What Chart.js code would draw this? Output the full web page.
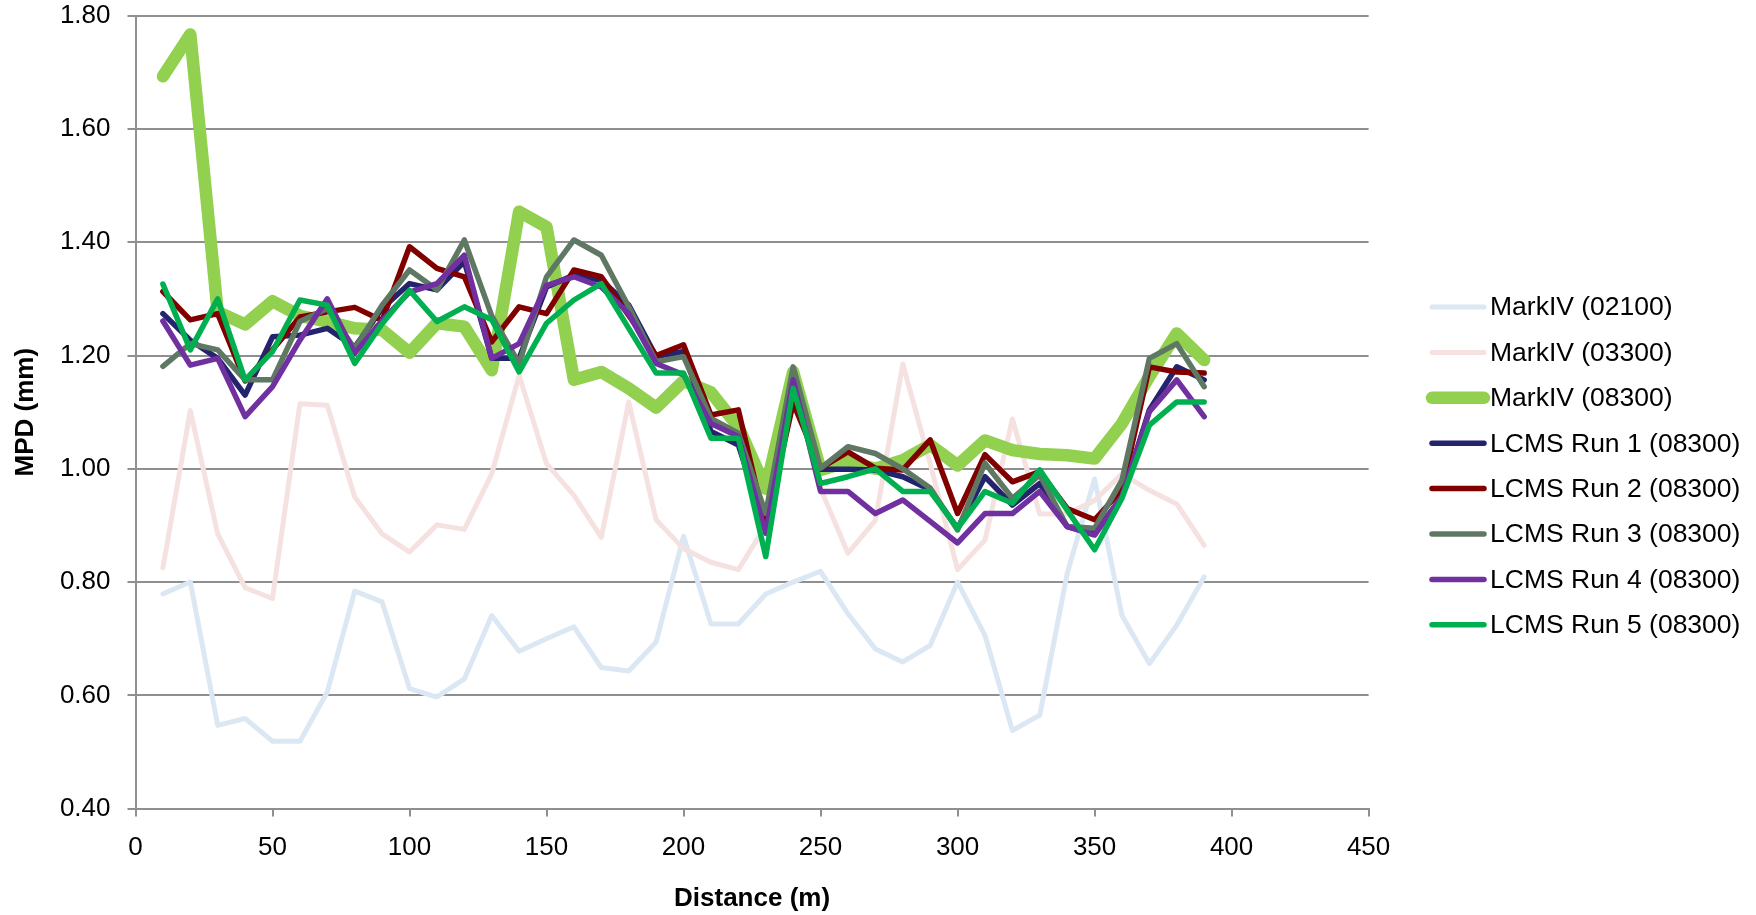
<!DOCTYPE html>
<html>
<head>
<meta charset="utf-8">
<title>MPD vs Distance</title>
<script src="https://cdn.jsdelivr.net/npm/chart.js@4/dist/chart.umd.min.js"></script>
<style>
  html, body { margin: 0; padding: 0; background: #fff; }
  canvas { display: block; }
</style>
</head>
<body>
<canvas id="mpdChart" width="1756" height="915"></canvas>
<script>
// distance along the section (m)
const distances = [10, 20, 30, 40, 50, 60, 70, 80, 90, 100, 110, 120, 130, 140, 150, 160, 170, 180, 190, 200,
                   210, 220, 230, 240, 250, 260, 270, 280, 290, 300, 310, 320, 330, 340, 350, 360, 370, 380, 390];

// MPD (mm) per survey
const markIV02100 = [0.779, 0.800, 0.547, 0.559, 0.519, 0.519, 0.606, 0.784, 0.765, 0.612, 0.597, 0.629, 0.741, 0.678, 0.700, 0.721, 0.649, 0.643, 0.694, 0.881,
                     0.726, 0.726, 0.779, 0.800, 0.819, 0.744, 0.682, 0.659, 0.688, 0.800, 0.706, 0.538, 0.565, 0.815, 0.982, 0.741, 0.656, 0.724, 0.809];
const markIV03300 = [0.825, 1.103, 0.885, 0.790, 0.771, 1.115, 1.112, 0.950, 0.885, 0.853, 0.901, 0.893, 0.991, 1.165, 1.009, 0.953, 0.879, 1.118, 0.910, 0.859,
                     0.835, 0.822, 0.900, 1.150, 0.965, 0.851, 0.909, 1.185, 1.009, 0.822, 0.874, 1.088, 0.920, 0.920, 0.944, 0.991, 0.962, 0.938, 0.865];
const markIV08300 = [1.693, 1.767, 1.277, 1.255, 1.296, 1.270, 1.260, 1.248, 1.245, 1.205, 1.257, 1.251, 1.174, 1.454, 1.427, 1.157, 1.171, 1.142, 1.108, 1.155,
                     1.135, 1.074, 0.965, 1.171, 0.998, 1.013, 1.000, 1.015, 1.042, 1.006, 1.050, 1.033, 1.026, 1.024, 1.018, 1.080, 1.163, 1.239, 1.192];
const lcmsRun1 = [1.274, 1.227, 1.195, 1.130, 1.233, 1.236, 1.248, 1.215, 1.283, 1.327, 1.316, 1.366, 1.195, 1.195, 1.321, 1.342, 1.333, 1.289, 1.198, 1.207,
                  1.066, 1.042, 0.892, 1.157, 0.999, 0.999, 0.998, 0.986, 0.963, 0.895, 0.986, 0.936, 0.974, 0.898, 0.886, 0.951, 1.104, 1.180, 1.157];
const lcmsRun2 = [1.313, 1.263, 1.274, 1.155, 1.210, 1.268, 1.277, 1.285, 1.262, 1.392, 1.354, 1.339, 1.224, 1.286, 1.274, 1.351, 1.339, 1.271, 1.200, 1.219,
                  1.095, 1.104, 0.898, 1.116, 1.001, 1.030, 1.001, 0.998, 1.051, 0.921, 1.025, 0.977, 0.995, 0.930, 0.910, 0.963, 1.180, 1.171, 1.169];
const lcmsRun3 = [1.181, 1.221, 1.210, 1.157, 1.157, 1.260, 1.283, 1.212, 1.289, 1.351, 1.316, 1.404, 1.270, 1.186, 1.339, 1.404, 1.377, 1.286, 1.189, 1.198,
                  1.089, 1.063, 0.921, 1.180, 1.001, 1.039, 1.027, 1.000, 0.966, 0.892, 1.010, 0.948, 0.989, 0.898, 0.895, 0.980, 1.195, 1.221, 1.145];
const lcmsRun4 = [1.261, 1.183, 1.195, 1.092, 1.145, 1.227, 1.300, 1.204, 1.262, 1.312, 1.327, 1.377, 1.195, 1.221, 1.324, 1.339, 1.321, 1.274, 1.186, 1.166,
                  1.080, 1.057, 0.886, 1.157, 0.960, 0.960, 0.921, 0.945, 0.907, 0.869, 0.921, 0.921, 0.960, 0.898, 0.883, 0.951, 1.101, 1.157, 1.092];
const lcmsRun5 = [1.326, 1.210, 1.300, 1.157, 1.207, 1.298, 1.289, 1.186, 1.256, 1.315, 1.260, 1.286, 1.263, 1.171, 1.257, 1.298, 1.327, 1.248, 1.169, 1.169,
                  1.054, 1.054, 0.845, 1.142, 0.974, 0.986, 1.000, 0.960, 0.960, 0.895, 0.960, 0.939, 0.998, 0.927, 0.857, 0.948, 1.077, 1.118, 1.118];

const seriesLabels = ['MarkIV (02100)', 'MarkIV (03300)', 'MarkIV (08300)', 'LCMS Run 1 (08300)',
                      'LCMS Run 2 (08300)', 'LCMS Run 3 (08300)', 'LCMS Run 4 (08300)', 'LCMS Run 5 (08300)'];
const seriesValues = [markIV02100, markIV03300, markIV08300, lcmsRun1, lcmsRun2, lcmsRun3, lcmsRun4, lcmsRun5];
const seriesColors = ['#dbe8f4', '#f6e1e1', '#92d050', '#24246e', '#800000', '#5f7864', '#7030a0', '#00b050'];
const seriesWidths = [5, 5, 12.5, 5.5, 5.5, 5.5, 5.5, 5.5];

const xTicks = { min: 0, max: 450, step: 50 };
const yTicks = { min: 0.4, max: 1.8, step: 0.2 };

const FONT = "'Liberation Sans', Arial, sans-serif";
const GRID = '#8f8f8f';

const datasets = seriesLabels.map((label, i) => ({
  label: label,
  data: distances.map((d, j) => ({ x: d, y: seriesValues[i][j] })),
  borderColor: seriesColors[i],
  backgroundColor: seriesColors[i],
  borderWidth: seriesWidths[i],
  borderCapStyle: 'round',
  borderJoinStyle: 'round',
  pointRadius: 0,
  pointHoverRadius: 0,
  tension: 0,
  fill: false,
  order: seriesLabels.length - 1 - i   // later series sit on top
}));

// legend drawn to the right of the plot, one line sample per series
const sideLegend = {
  id: 'sideLegend',
  afterDraw(chart) {
    const ctx = chart.ctx;
    const x0 = 1432, x1 = 1484, textX = 1490;
    const top = 307, gap = 45.4;
    ctx.save();
    ctx.font = '26.5px ' + FONT;
    ctx.textBaseline = 'middle';
    ctx.textAlign = 'left';
    chart.data.datasets.forEach((ds, i) => {
      const y = top + i * gap;
      ctx.beginPath();
      ctx.lineCap = 'round';
      ctx.strokeStyle = ds.borderColor;
      ctx.lineWidth = ds.borderWidth;
      ctx.moveTo(x0, y);
      ctx.lineTo(x1, y);
      ctx.stroke();
      ctx.fillStyle = '#000';
      ctx.fillText(ds.label, textX, y + 1);
    });
    ctx.restore();
  }
};

Chart.defaults.font.family = FONT;
Chart.defaults.font.size = 26;
Chart.defaults.color = '#000';

new Chart(document.getElementById('mpdChart').getContext('2d'), {
  type: 'line',
  data: { datasets: datasets },
  options: {
    responsive: false,
    devicePixelRatio: 1,
    animation: false,
    layout: { padding: { left: 0, top: 0, right: 387.4, bottom: 0 } },
    plugins: {
      legend: { display: false },
      tooltip: { enabled: false }
    },
    scales: {
      x: {
        type: 'linear',
        min: xTicks.min,
        max: xTicks.max,
        afterFit: (scale) => { scale.height = 106.4; },
        ticks: { stepSize: xTicks.step, padding: 16, font: { size: 26 } },
        grid: { drawOnChartArea: false, drawTicks: true, tickLength: 8, color: GRID, lineWidth: 2 },
        border: { color: GRID, width: 2 },
        title: { display: true, text: 'Distance (m)', font: { size: 26, weight: 'bold' }, padding: { top: 0, bottom: 1 } }
      },
      y: {
        min: yTicks.min,
        max: yTicks.max,
        afterFit: (scale) => { scale.width = 135.5; scale.paddingTop = 15.7; },
        ticks: {
          stepSize: yTicks.step,
          padding: 17,
          font: { size: 26 },
          callback: (v) => v.toFixed(2)
        },
        grid: { color: GRID, lineWidth: 2, tickLength: 8 },
        border: { color: GRID, width: 2 },
        title: { display: true, text: 'MPD (mm)', font: { size: 26, weight: 'bold' }, padding: { top: 10, bottom: 0 } }
      }
    }
  },
  plugins: [sideLegend]
});
</script>
</body>
</html>
